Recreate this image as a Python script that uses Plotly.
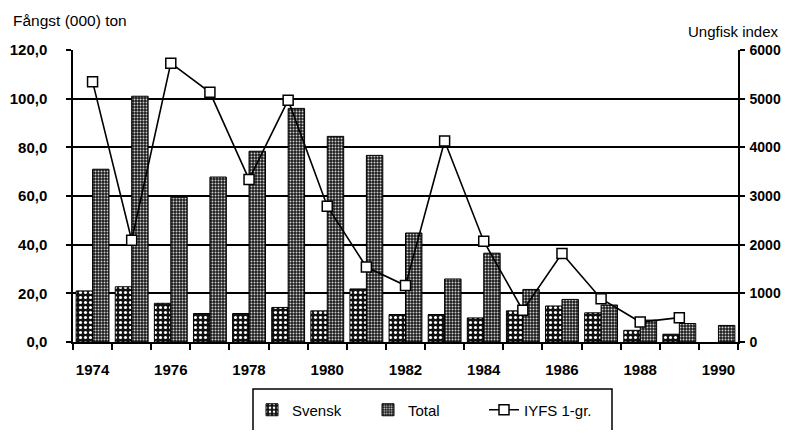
import plotly.graph_objects as go

years = list(range(1974, 1991))
svensk = [21, 22.7, 15.9, 11.7, 11.7, 14.2, 12.8, 21.8, 11.3, 11.3, 9.9, 12.8, 14.8, 12.0, 4.8, 3.2, None]
total = [71, 101, 59.5, 67.8, 78.4, 96, 84.5, 76.7, 44.8, 25.9, 36.5, 21.6, 17.5, 15.2, 9.0, 7.6, 6.8]
iyfs = [5350, 2090, 5730, 5130, 3340, 4970, 2790, 1540, 1160, 4130, 2070, 650, 1820, 890, 410, 500, None]
year_labels = [1974, 1976, 1978, 1980, 1982, 1984, 1986, 1988, 1990]
left_ticks = [0, 20, 40, 60, 80, 100, 120]
right_ticks = [0, 1000, 2000, 3000, 4000, 5000, 6000]

# page has an 8px body margin; figure is placed at (8, 8)
OFF = 8
W, H = 792 - 2 * OFF, 438 - 2 * OFF
L, R, T, B = 73, 738, 50, 342  # plot area in page pixels

fig = go.Figure()
fig.add_trace(go.Bar(
    x=years, y=svensk, name="Svensk",
    marker=dict(color="#111111", line=dict(color="black", width=1),
                pattern=dict(shape=".", bgcolor="#111111", fgcolor="white",
                             size=5, solidity=0.3, fillmode="replace")),
))
fig.add_trace(go.Bar(
    x=years, y=total, name="Total",
    marker=dict(color="#333333", line=dict(color="black", width=1),
                pattern=dict(shape=".", bgcolor="#1a1a1a", fgcolor="#d0d0d0",
                             size=3, solidity=0.35, fillmode="replace")),
))
fig.add_trace(go.Scatter(
    x=years, y=iyfs, name="IYFS 1-gr.", yaxis="y2", mode="lines+markers",
    line=dict(color="black", width=1.6),
    marker=dict(symbol="square", size=10, color="white",
                line=dict(color="black", width=1.5)),
))

font = "Liberation Sans, Arial, sans-serif"
fig.update_layout(
    width=W, height=H, autosize=False,
    margin=dict(l=L - OFF, r=(792 - OFF) - R, t=T - OFF, b=(438 - OFF) - B, pad=0),
    paper_bgcolor="white", plot_bgcolor="white",
    separators=", ",
    barmode="group", bargap=0.16, bargroupgap=0.0,
    font=dict(family=font, size=12, color="black"),
    showlegend=True,
    legend=dict(orientation="h", xref="paper", yref="container",
                x=(252 - L) / (R - L), y=1 - (410 - OFF) / H,
                xanchor="left", yanchor="middle", bgcolor="rgba(0,0,0,0)",
                borderwidth=0, entrywidth=71, entrywidthmode="pixels",
                font=dict(size=15, family=font), itemwidth=30),
    xaxis=dict(range=[1973.5, 1990.5], tickmode="array", tickvals=year_labels,
               ticktext=[str(y) for y in year_labels], ticks="outside", ticklen=0,
               showline=True, linecolor="black", linewidth=1.5, showgrid=False,
               zeroline=False, ticklabelstandoff=13, automargin=False,
               tickfont=dict(size=15, family=font, weight="bold"),
               minor=dict(tickmode="array",
                          tickvals=[y + 0.5 for y in range(1973, 1991)],
                          ticks="outside", ticklen=6, tickcolor="black", tickwidth=1.5)),
    yaxis=dict(range=[0, 120], tickmode="array", tickvals=left_ticks, tickformat=".1f",
               ticks="outside", ticklen=5, tickwidth=1.5, tickcolor="black",
               showline=True, linecolor="black", linewidth=1.5,
               showgrid=True, gridcolor="black", gridwidth=1.5, zeroline=False,
               ticklabelstandoff=16, automargin=False,
               tickfont=dict(size=15, family=font, weight="bold")),
    yaxis2=dict(range=[0, 6000], overlaying="y", side="right", tickmode="array",
                tickvals=right_ticks, tickformat=".0f",
                ticks="outside", ticklen=5, tickwidth=1.5, tickcolor="black",
                showline=True, linecolor="black", linewidth=1.5,
                showgrid=False, zeroline=False, ticklabelstandoff=2, automargin=False,
                tickfont=dict(size=14, family=font, weight="bold")),
    shapes=[dict(type="rect", xref="paper", yref="paper",
                 x0=(253 - L) / (R - L), x1=(612 - L) / (R - L),
                 y0=(B - 389) / (B - T), y1=(B - 450) / (B - T),
                 line=dict(color="black", width=1.5), fillcolor="rgba(0,0,0,0)")],
    annotations=[
        dict(text="Fångst (000) ton", xref="paper", yref="paper",
             x=(11 - L) / (R - L), y=(B - 21) / (B - T), xanchor="left", yanchor="middle",
             showarrow=False, font=dict(size=15.5, family=font)),
        dict(text="Ungfisk index", xref="paper", yref="paper",
             x=(781 - L) / (R - L), y=(B - 31) / (B - T), xanchor="right", yanchor="middle",
             showarrow=False, font=dict(size=15, family=font)),
    ],
)

fig.write_html("out.html")
